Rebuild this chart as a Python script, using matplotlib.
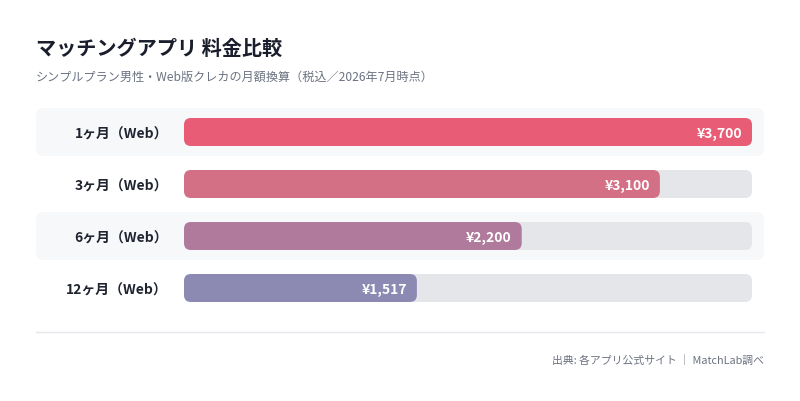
import matplotlib
matplotlib.use('Agg')
import matplotlib.pyplot as plt
from matplotlib.patches import FancyBboxPatch

plt.rcParams['font.family'] = ['Noto Sans CJK JP', 'DejaVu Sans']

# data
plans = ['1ヶ月（Web）', '3ヶ月（Web）', '6ヶ月（Web）', '12ヶ月（Web）']
prices = [3700, 3100, 2200, 1517]
price_labels = ['¥3,700', '¥3,100', '¥2,200', '¥1,517']
bar_colors = ['#e85c75', '#d47086', '#b07a9c', '#8c8ab3']

title = 'マッチングアプリ 料金比較'
subtitle = 'シンプルプラン男性・Web版クレカの月額換算（税込／2026年7月時点）'
source = '出典: 各アプリ公式サイト ｜ MatchLab調べ'

W, H = 800, 401
fig = plt.figure(figsize=(W / 100, H / 100), dpi=100)
fig.patch.set_facecolor('white')

# bar area: x pixels 184..752, rows 52px apart starting at y=132
left_px, right_px = 184, 752
row_px = 52
top_px = 132 - row_px / 2
n = len(plans)
ax = fig.add_axes([left_px / W, 1 - (top_px + n * row_px) / H,
                   (right_px - left_px) / W, n * row_px / H])
xmax = max(prices)
ax.set_xlim(0, xmax)
ax.set_ylim(n - 0.5, -0.5)
ax.axis('off')

ux = xmax / (right_px - left_px)   # data units per pixel (x)
uy = 1 / row_px                    # data units per pixel (y)
aspect = uy / ux

def rbox(x0, y0, w, h, r_px, color, z):
    p = FancyBboxPatch((x0, y0), w, h,
                       boxstyle=f'round,pad=0,rounding_size={r_px * ux}',
                       mutation_aspect=aspect, fc=color, ec='none',
                       zorder=z, clip_on=False)
    ax.add_patch(p)

bar_h = 28 * uy
band_h = 48 * uy
for i, (name, val, lab, col) in enumerate(zip(plans, prices, price_labels, bar_colors)):
    if i % 2 == 0:
        rbox((36 - left_px) * ux, i - band_h / 2, (764 - 36) * ux, band_h, 8, '#f7f8fa', 0)
    rbox(0, i - bar_h / 2, xmax, bar_h, 7, '#e5e6ea', 1)
    rbox(0, i - bar_h / 2, val, bar_h, 7, col, 2)
    ax.annotate(name, (0, i), xytext=(-16, -3), textcoords='offset pixels',
                ha='right', va='center', fontsize=10, fontweight='bold',
                color='#1f2430', annotation_clip=False)
    ax.annotate(lab, (val, i), xytext=(-10, -2), textcoords='offset pixels',
                ha='right', va='center', fontsize=10, fontweight='bold',
                color='white', zorder=3)

fig.text(36 / W, 1 - 48 / H, title, ha='left', va='center',
         fontsize=14.5, fontweight='bold', color='#1a1d2b')
fig.text(36 / W, 1 - 77 / H, subtitle, ha='left', va='center',
         fontsize=8.7, color='#6b7280')

fig.add_artist(plt.Line2D([36 / W, 764 / W], [1 - 332 / H, 1 - 332 / H],
                          color='#e5e7eb', lw=1))
fig.text(764 / W, 1 - 360 / H, source, ha='right', va='center',
         fontsize=7.8, color='#6b7280')

fig.savefig('out.png', dpi=100, facecolor='white')
